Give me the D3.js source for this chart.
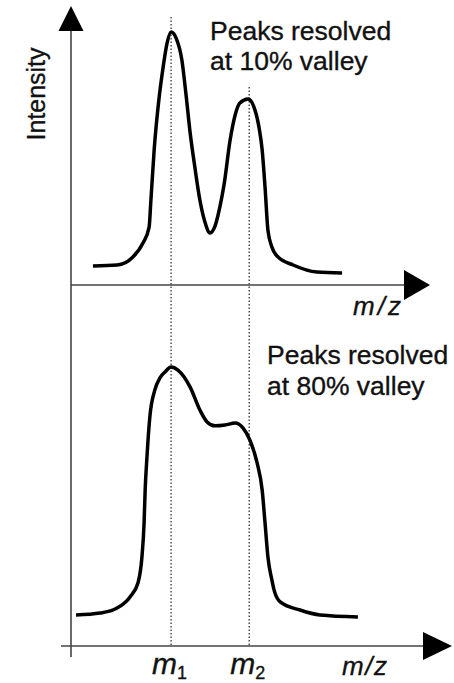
<!DOCTYPE html>
<html>
<head>
<meta charset="utf-8">
<script src="https://cdn.jsdelivr.net/npm/d3@7"></script>
<style>
  html, body { margin: 0; padding: 0; background: #fff; }
  svg { display: block; }
  text { font-family: "Liberation Sans", Arial, sans-serif; fill: #111; stroke: #111; stroke-width: 0.35px; }
</style>
</head>
<body>
<div id="chart"></div>
<script>
// ---- Data (m/z in arbitrary units 0..100, intensity relative 0..100) ----
const peakPositions = [27.8, 49.5];           // m1, m2
const peakLabels = ["1", "2"];

const topMz = [6.1, 12.8, 17.2, 20.0, 21.7, 22.2, 23.1, 24.4, 25.6, 26.7, 27.8, 29.2, 30.8, 31.9, 33.1, 34.4, 35.8, 37.2, 38.6, 40.0, 41.4, 42.5, 44.2, 45.6, 46.9, 49.2, 50.8, 52.2, 53.1, 53.9, 54.7, 55.8, 57.5, 61.7, 68.3, 75.3];
const topIntensity = [7.5, 7.9, 11.1, 16.6, 22.9, 33.6, 53.4, 73.1, 86.2, 95.7, 100, 97.6, 88.9, 75.9, 60.1, 46.6, 33.6, 24.9, 20.6, 23.3, 31.2, 39.5, 57.3, 67.2, 71.9, 73.5, 70.4, 62.5, 53.4, 38.7, 21.7, 15.0, 11.1, 7.9, 5.1, 4.7];

const bottomMz = [1.4, 8.1, 12.8, 16.4, 18.6, 19.7, 20.3, 20.6, 21.1, 21.9, 23.3, 24.7, 26.1, 27.8, 29.7, 33.1, 35.8, 37.8, 40.0, 42.8, 45.6, 47.8, 49.7, 51.7, 53.1, 53.9, 54.7, 55.8, 56.4, 58.1, 63.6, 69.2, 79.7];
const bottomIntensity = [11.1, 11.8, 13.6, 17.6, 22.6, 31.9, 44.1, 55.9, 67.7, 82.1, 91.8, 96.1, 98.2, 100, 98.9, 92.8, 84.6, 80.3, 78.9, 79.2, 79.9, 78.1, 73.8, 65.6, 55.9, 44.1, 31.9, 23.7, 20.1, 15.8, 12.9, 11.1, 10.4];

const topCaption = ["Peaks resolved", "at 10% valley"];
const bottomCaption = ["Peaks resolved", "at 80% valley"];
const yAxisTitle = "Intensity";
const xAxisTitle = "m/z";

// ---- Layout ----
const W = 454, H = 683;
const svg = d3.select("#chart").append("svg").attr("width", W).attr("height", H);
svg.append("rect").attr("width", W).attr("height", H).attr("fill", "#fff");

const x = d3.scaleLinear().domain([0, 100]).range([71, 431]);
const yTop = d3.scaleLinear().domain([0, 100]).range([285, 32]);
const yBot = d3.scaleLinear().domain([0, 100]).range([646, 367]);

const axisColor = "#444";

// dotted reference lines at m1, m2
const dotTops = [17, 87];
peakPositions.forEach((p, i) => {
  svg.append("line")
    .attr("x1", x(p)).attr("x2", x(p))
    .attr("y1", dotTops[i]).attr("y2", yBot(0))
    .attr("stroke", "#333").attr("stroke-width", 1.3)
    .attr("stroke-dasharray", "1.5,2");
});

// vertical axis
const x0 = x(0);
svg.append("line").attr("x1", x0).attr("x2", x0).attr("y1", 28).attr("y2", yBot(0) + 11)
  .attr("stroke", axisColor).attr("stroke-width", 1.6);
svg.append("path").attr("d", `M${x0},6 L${x0 + 12.5},31 L${x0 - 12.5},31 Z`).attr("fill", "#000");

// top horizontal axis
svg.append("line").attr("x1", x0).attr("x2", 406).attr("y1", yTop(0)).attr("y2", yTop(0))
  .attr("stroke", axisColor).attr("stroke-width", 1.6);
svg.append("path").attr("d", `M430,${yTop(0)} L404,${yTop(0) - 15} L404,${yTop(0) + 15} Z`).attr("fill", "#000");

// bottom horizontal axis
svg.append("line").attr("x1", x0 - 10).attr("x2", 425).attr("y1", yBot(0)).attr("y2", yBot(0))
  .attr("stroke", axisColor).attr("stroke-width", 1.6);
svg.append("path").attr("d", `M452,${yBot(0)} L423,${yBot(0) - 14} L423,${yBot(0) + 14} Z`).attr("fill", "#000");

// curves
const lineTop = d3.line().x((d, i) => x(topMz[i])).y((d, i) => yTop(topIntensity[i])).curve(d3.curveMonotoneX);
const lineBot = d3.line().x((d, i) => x(bottomMz[i])).y((d, i) => yBot(bottomIntensity[i])).curve(d3.curveMonotoneX);
svg.append("path").attr("d", lineTop(topMz)).attr("fill", "none").attr("stroke", "#000").attr("stroke-width", 3.5).attr("stroke-linejoin", "round");
svg.append("path").attr("d", lineBot(bottomMz)).attr("fill", "none").attr("stroke", "#000").attr("stroke-width", 3.5).attr("stroke-linejoin", "round");

// captions
const fs = 26.5;
topCaption.forEach((t, i) => svg.append("text").attr("x", 210).attr("y", 40 + i * 30).attr("font-size", fs).text(t));
bottomCaption.forEach((t, i) => svg.append("text").attr("x", 267).attr("y", 364 + i * 31).attr("font-size", fs).text(t));

// y axis title
svg.append("text").attr("transform", "translate(45,94) rotate(-90)").attr("text-anchor", "middle")
  .attr("font-size", 25).text(yAxisTitle);

// x axis titles
svg.append("text").attr("x", 353).attr("y", 315).attr("font-size", 26).attr("font-style", "italic")
  .attr("letter-spacing", 3).text(xAxisTitle);
svg.append("text").attr("x", 342).attr("y", 675).attr("font-size", 26).attr("font-style", "italic")
  .attr("letter-spacing", 1.5).text(xAxisTitle);

// m1, m2 labels
peakPositions.forEach((p, i) => {
  const t = svg.append("text").attr("x", x(p) - 19).attr("y", 674).attr("font-size", 30);
  t.append("tspan").attr("font-style", "italic").text("m");
  t.append("tspan").attr("font-size", 18).attr("dy", 5).text(peakLabels[i]);
});
</script>
</body>
</html>
